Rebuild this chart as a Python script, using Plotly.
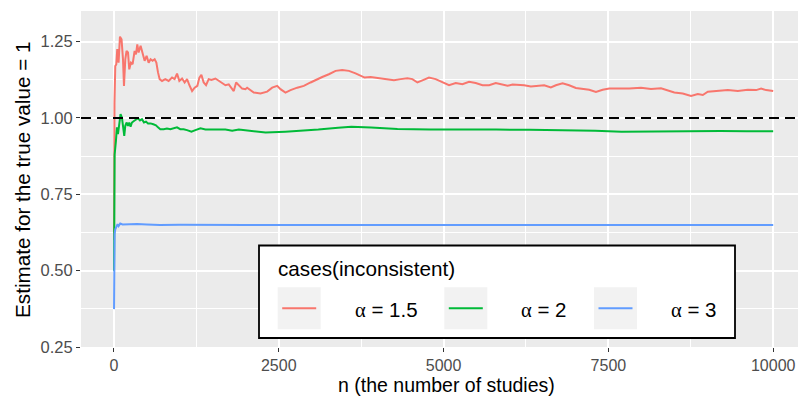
import plotly.graph_objects as go

# ---------------- data ----------------
n_red = [1, 3, 8, 20, 35, 50, 70, 91, 115, 137,
         152, 172, 191, 213, 232, 258, 283, 313, 334, 354,
         374, 404, 435, 465, 495, 526, 556, 586, 617, 643,
         668, 693, 729, 779, 829, 881, 920, 957, 992, 1033,
         1072, 1109, 1144, 1185, 1224, 1265, 1296, 1326, 1361, 1397,
         1437, 1478, 1539, 1589, 1641, 1691, 1741, 1792, 1817, 1853,
         1893, 1944, 1994, 2020, 2121, 2222, 2324, 2400, 2476, 2526,
         2602, 2678, 2780, 2880, 2982, 3084, 3159, 3260, 3362, 3463,
         3564, 3665, 3741, 3802, 3893, 3969, 4045, 4147, 4247, 4349,
         4451, 4527, 4603, 4679, 4779, 4880, 4982, 5083, 5184, 5286,
         5386, 5488, 5590, 5690, 5792, 5894, 5970, 6046, 6146, 6222,
         6324, 6425, 6526, 6627, 6703, 6805, 6905, 7007, 7109, 7209,
         7311, 7413, 7513, 7615, 7717, 7817, 7995, 8146, 8298, 8400,
         8500, 8628, 8754, 8856, 8932, 9008, 9160, 9312, 9463, 9615,
         9741, 9817, 9893, 10000]
v_red = [0.60, 0.85, 1.05, 1.17, 1.175, 1.225, 1.181, 1.266, 1.257, 1.192,
         1.105, 1.192, 1.219, 1.214, 1.159, 1.181, 1.176, 1.219, 1.208, 1.241,
         1.214, 1.236, 1.214, 1.187, 1.203, 1.181, 1.192, 1.187, 1.192, 1.181,
         1.149, 1.127, 1.121, 1.127, 1.121, 1.132, 1.127, 1.145, 1.121, 1.129,
         1.116, 1.127, 1.107, 1.088, 1.099, 1.105, 1.132, 1.141, 1.116, 1.107,
         1.127, 1.124, 1.129, 1.121, 1.114, 1.107, 1.110, 1.096, 1.088, 1.116,
         1.107, 1.096, 1.094, 1.099, 1.083, 1.080, 1.086, 1.099, 1.105, 1.094,
         1.083, 1.091, 1.099, 1.105, 1.116, 1.127, 1.134, 1.143, 1.154, 1.157,
         1.154, 1.146, 1.137, 1.132, 1.134, 1.132, 1.129, 1.127, 1.123, 1.127,
         1.130, 1.127, 1.116, 1.123, 1.132, 1.127, 1.118, 1.107, 1.114, 1.110,
         1.118, 1.114, 1.107, 1.107, 1.114, 1.109, 1.105, 1.109, 1.109, 1.107,
         1.103, 1.105, 1.107, 1.100, 1.107, 1.113, 1.107, 1.098, 1.096, 1.092,
         1.085, 1.092, 1.096, 1.096, 1.094, 1.096, 1.099, 1.095, 1.097, 1.091,
         1.083, 1.080, 1.072, 1.078, 1.075, 1.086, 1.088, 1.091, 1.088, 1.092,
         1.091, 1.096, 1.091, 1.088]

n_green = [1, 4, 8, 10, 30, 45, 61, 81, 100, 121,
           141, 156, 172, 191, 213, 232, 252, 273, 303, 334,
           364, 395, 425, 455, 486, 516, 556, 597, 637, 668,
           703, 754, 804, 855, 905, 956, 1006, 1057, 1108, 1175,
           1235, 1312, 1388, 1490, 1590, 1691, 1793, 1894, 1994, 2300,
           2600, 2800, 3100, 3400, 3600, 3900, 4300, 4800, 5200, 5800,
           6300, 6800, 7300, 7700, 8100, 8600, 9200, 9600, 10000]
v_green = [0.50, 0.70, 0.80, 0.88, 0.925, 0.969, 0.947, 0.990, 1.012, 1.001,
           0.969, 0.941, 0.974, 0.985, 0.974, 0.985, 0.971, 0.985, 0.990, 0.996,
           0.999, 0.992, 0.996, 0.985, 0.988, 0.982, 0.982, 0.979, 0.976, 0.969,
           0.963, 0.963, 0.965, 0.963, 0.967, 0.969, 0.963, 0.963, 0.960, 0.955,
           0.960, 0.966, 0.962, 0.963, 0.962, 0.962, 0.958, 0.962, 0.960, 0.952,
           0.955, 0.957, 0.962, 0.968, 0.971, 0.969, 0.964, 0.962, 0.961, 0.962,
           0.961, 0.960, 0.958, 0.955, 0.956, 0.957, 0.957, 0.956, 0.956]

n_blue = [1, 3, 6, 10, 20, 40, 55, 70, 95, 130,
          200, 350, 500, 700, 1000, 1500, 2000, 3000, 4000, 5000,
          6000, 7000, 8000, 9000, 10000]
v_blue = [0.374, 0.50, 0.58, 0.62, 0.635, 0.645, 0.652, 0.646, 0.654, 0.651,
          0.652, 0.653, 0.651, 0.649, 0.650, 0.649, 0.649, 0.649, 0.649, 0.649,
          0.649, 0.649, 0.649, 0.649, 0.649]

series_names = ["α = 1.5", "α = 2", "α = 3"]
series_colors = ["#F8766D", "#00BA38", "#619CFF"]
legend_title = "cases(inconsistent)"
true_value = 1.0
x_ticks = [0, 2500, 5000, 7500, 10000]
y_ticks = [0.25, 0.50, 0.75, 1.00, 1.25]
x_title = "n (the number of studies)"
y_title = "Estimate for the true value = 1"

# ---------------- layout geometry ----------------
W, H = 798, 396
L, R, T, B = 81, 0, 11, 49
PW, PH = W - L - R, H - T - B
FONT = "Liberation Sans, Arial, sans-serif"


def px_x(px):
    return (px - L) / PW


def px_y(py):
    return (H - B - py) / PH


fig = go.Figure()
for xs, ys, name, col in zip([n_red, n_green, n_blue], [v_red, v_green, v_blue],
                             series_names, series_colors):
    fig.add_trace(go.Scatter(x=xs, y=ys, mode="lines", name=name, showlegend=False,
                             line=dict(color=col, width=2)))

shapes = []
# dashed reference line at the true value
shapes.append(dict(type="line", xref="paper", yref="y", x0=0, x1=1, y0=true_value, y1=true_value,
                   line=dict(color="black", width=2, dash="10px,6px"), layer="above"))
# legend box
shapes.append(dict(type="rect", xref="paper", yref="paper", x0=px_x(259), x1=px_x(735),
                   y0=px_y(338), y1=px_y(245.5), fillcolor="white",
                   line=dict(color="black", width=1.8), layer="above"))
key_left = [277.7, 444.3, 594.0]
label_right = [420, 569.3, 719]
annotations = []
for i, col in enumerate(series_colors):
    kx = key_left[i]
    shapes.append(dict(type="rect", xref="paper", yref="paper", x0=px_x(kx), x1=px_x(kx + 43),
                       y0=px_y(329.3), y1=px_y(287.3), fillcolor="#F2F2F2",
                       line=dict(width=0), layer="above"))
    shapes.append(dict(type="line", xref="paper", yref="paper", x0=px_x(kx + 4.5), x1=px_x(kx + 38.5),
                       y0=px_y(308.3), y1=px_y(308.3), line=dict(color=col, width=2), layer="above"))
    lab = series_names[i].replace("α", '<span style="font-family:Liberation Serif">α</span>')
    annotations.append(dict(text=lab, xref="paper", yref="paper", x=px_x(label_right[i]),
                            y=px_y(309), xanchor="right", yanchor="middle", showarrow=False,
                            font=dict(family=FONT, size=20.5, color="black")))

annotations.append(dict(text=legend_title, xref="paper", yref="paper", x=px_x(276), y=px_y(268),
                        xanchor="left", yanchor="middle", showarrow=False,
                        font=dict(family=FONT, size=20.7, color="black")))
annotations.append(dict(text=x_title, xref="paper", yref="paper", x=px_x(446), y=px_y(385),
                        xanchor="center", yanchor="middle", showarrow=False,
                        font=dict(family=FONT, size=19.5, color="black")))
annotations.append(dict(text=y_title, xref="paper", yref="paper", x=px_x(22), y=px_y(180),
                        xanchor="center", yanchor="middle", showarrow=False, textangle=-90,
                        font=dict(family=FONT, size=20.7, color="black")))

fig.update_layout(
    width=W, height=H,
    margin=dict(l=L, r=R, t=T, b=B, pad=0),
    paper_bgcolor="white", plot_bgcolor="#EBEBEB",
    font=dict(family=FONT),
    shapes=shapes, annotations=annotations,
    showlegend=False,
)
fig.update_xaxes(range=[-500, -500 + PW / 0.065924], tickvals=x_ticks,
                 ticktext=[str(v) for v in x_ticks],
                 showgrid=True, gridcolor="white", gridwidth=1.5, zeroline=False, showline=False,
                 ticks="outside", ticklen=4, tickwidth=1.1, tickcolor="#333333",
                 tickfont=dict(family=FONT, size=16, color="#4D4D4D"),
                 minor=dict(tickvals=[1250, 3750, 6250, 8750], showgrid=True,
                            gridcolor="white", gridwidth=0.7, ticklen=0))
fig.update_yaxes(range=[0.25, 1.35], tickvals=y_ticks,
                 ticktext=["%.2f" % v for v in y_ticks],
                 showgrid=True, gridcolor="white", gridwidth=1.5, zeroline=False, showline=False,
                 ticks="outside", ticklen=4, tickwidth=1.1, tickcolor="#333333",
                 tickfont=dict(family=FONT, size=16.5, color="#4D4D4D"),
                 minor=dict(tickvals=[0.375, 0.625, 0.875, 1.125], showgrid=True,
                            gridcolor="white", gridwidth=0.7, ticklen=0))

fig.write_html("out.html")
